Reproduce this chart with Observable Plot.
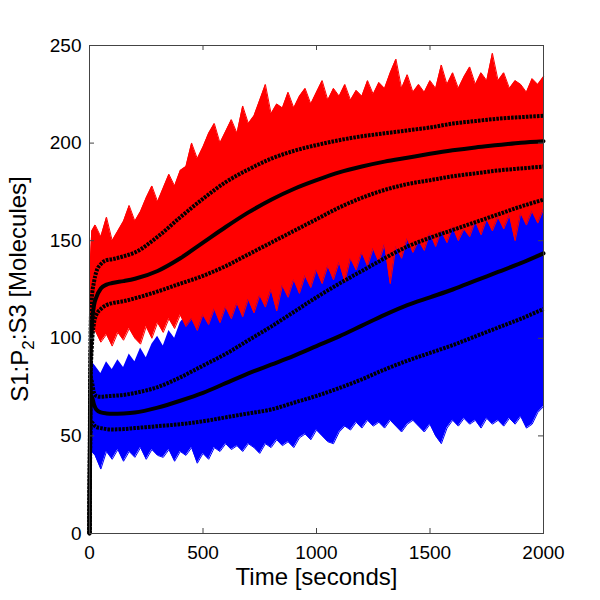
<!DOCTYPE html>
<html><head><meta charset="utf-8">
<script src="https://cdn.jsdelivr.net/npm/d3@7"></script>
<script src="https://cdn.jsdelivr.net/npm/@observablehq/plot@0.6"></script>
<style>
body{margin:0;background:#fff}
svg{font-family:"Liberation Sans",Arial,sans-serif}
</style>
</head><body><div id="chart"></div>
<script>
// ---- data ----
const xTicks = [0, 500, 1000, 1500, 2000];
const yTicks = [0, 50, 100, 150, 200, 250];

// time grid of the trajectory envelopes (seconds)
const envT = [0, 4, 10, 25, 50, 75, 100, 125, 150, 175, 200, 225, 250, 275, 300, 325, 350, 375, 400, 425, 450, 475, 500,
  525, 550, 575, 600, 625, 650, 675, 700, 725, 750, 775, 800, 825, 850, 875, 900, 925, 950, 975, 1000,
  1025, 1050, 1075, 1100, 1125, 1150, 1175, 1200, 1225, 1250, 1275, 1300, 1325, 1350, 1375, 1400,
  1425, 1450, 1475, 1500, 1525, 1550, 1575, 1600, 1625, 1650, 1675, 1700, 1725, 1750, 1775, 1800,
  1825, 1850, 1875, 1900, 1925, 1950, 1975, 2000];

// red trajectories: upper / lower envelope
const redUpper = [0, 140, 155,
  158,152,162,150,155,160,168,160,165,172,
  178,170,177,184,178,186,188,200,192,198,
  205,210,200,206,212,205,219,210,214,222,
  230,215,220,218,226,218,224,228,220,226,
  232,222,228,224,230,222,227,224,232,225,
  231,228,236,243,228,235,226,230,226,232,
  228,240,230,236,228,234,239,230,236,232,
  246,232,236,228,232,230,226,233,230,234];
const redLower = [0, 95, 102,
  104,98,102,96,103,99,105,100,97,106,
  100,108,103,110,105,112,106,110,104,112,
  107,115,108,116,110,118,111,120,113,122,
  116,125,114,127,121,130,123,132,126,135,
  128,137,130,139,129,141,135,144,137,146,
  139,148,128,147,141,151,144,150,145,154,
  147,155,149,157,150,156,152,160,153,161,
  155,162,156,163,150,164,158,165,159,166];

// blue trajectories: upper / lower envelope
const blueUpper = [0, 82, 88,
  86,82,88,84,89,85,92,88,95,90,
  97,101,96,104,100,108,112,118,115,122,
  126,124,130,128,133,136,132,138,136,141,
  139,143,141,146,144,148,146,150,148,152,
  150,155,153,157,155,160,158,162,160,164,
  162,166,164,168,166,170,168,172,170,174,
  172,176,174,178,176,180,178,182,180,184,
  182,186,184,188,184,186,183,185,182,184];
const blueLower = [0, 50, 42,
  40,33,42,38,43,37,42,39,44,38,
  43,40,39,43,37,42,40,44,36,41,
  38,44,42,46,43,45,42,46,44,41,
  46,44,48,45,47,44,49,51,48,53,
  50,47,46,52,55,53,57,54,58,55,
  57,54,58,55,52,56,58,55,52,56,
  50,46,54,58,55,59,56,58,54,59,
  56,58,55,59,56,60,54,56,62,65];

// mean and mean +/- std curves
const lineT = [0, 2, 5, 10, 20, 30, 50, 75, 100, 150, 200, 300, 400, 500, 600, 700, 800, 900, 1000,
  1100, 1200, 1300, 1400, 1500, 1600, 1700, 1800, 1900, 2000];
const redMean = [0, 50, 90, 105, 117, 121, 125.5, 127.5, 128.3, 129.3, 130.5, 134.5, 141, 149, 157, 164.5, 171, 176.5, 181,
  185, 188, 190.5, 192.5, 194.5, 196.3, 197.8, 199, 200.2, 201];
const redUp = [0, 60, 105, 120, 129, 134, 138, 140, 140.5, 142, 144, 152, 162, 171.5, 180, 186.5, 192, 196, 199,
  201.5, 203.5, 205, 206.5, 208, 210, 211.3, 212.5, 213.3, 214];
const redLo = [0, 40, 80, 95, 108, 112, 115, 117, 118, 119, 120.5, 124, 128, 132, 137, 143, 149, 155, 161,
  167, 172, 176, 179, 181, 183, 184.5, 186, 187, 188];
const blueMean = [0, 35, 68, 70, 66, 63.5, 62, 61.5, 61.3, 61.5, 62, 64.5, 68, 72, 77, 82, 86.5, 91, 96,
  101, 106.5, 112, 117, 121, 125, 129.5, 134, 138.5, 143.5];
const blueUp = [0, 45, 80, 78, 72, 70.5, 70, 70.3, 70.5, 71, 72, 75, 80, 86, 92, 99, 106, 113.5, 121,
  128, 134.5, 141, 147, 151.5, 155.5, 159.5, 163.5, 167.5, 171];
const blueLo = [0, 30, 55, 57, 55.5, 54.5, 54, 53.5, 53.3, 53.5, 54, 55, 56, 57.5, 59.5, 61.5, 63.5, 67, 70.5,
  74.5, 79, 84, 88.5, 92.5, 96.5, 101, 105.5, 110, 115];

// ---- tables ----
const env = envT.map((t, i) => ({t, ru: redUpper[i], rl: redLower[i], bu: blueUpper[i], bl: blueLower[i]}));
const stats = lineT.map((t, i) => ({t, rm: redMean[i], ru: redUp[i], rl: redLo[i], bm: blueMean[i], bu: blueUp[i], bl: blueLo[i]}));

const W = 600, H = 600, mL = 89, mR = 57, mT = 45, mB = 67;
const iw = W - mL - mR, ih = H - mT - mB;
const frameCol = "#444";
const dotted = {stroke: "black", strokeWidth: 4, strokeDasharray: "2.6,1.1", strokeLinecap: "butt", strokeLinejoin: "miter", curve: "monotone-x"};
const solid = {stroke: "black", strokeWidth: 4, curve: "monotone-x"};

const svg = Plot.plot({
  width: W, height: H,
  marginLeft: mL, marginRight: mR, marginTop: mT, marginBottom: mB,
  x: {domain: [0, 2000]},
  y: {domain: [0, 250]},
  style: {fontFamily: '"Liberation Sans", Arial, sans-serif', background: "#fff", color: "#000", overflow: "visible"},
  marks: [
    Plot.areaY(env, {x: "t", y1: "bl", y2: "bu", fill: "#0000ff"}),
    Plot.lineY(env, {x: "t", y: "bl", stroke: "#0000ff", strokeWidth: 1}),
    Plot.areaY(env, {x: "t", y1: "rl", y2: "ru", fill: "#ff0000"}),
    Plot.lineY(env, {x: "t", y: "ru", stroke: "#ff0000", strokeWidth: 1}),
    Plot.lineY(env, {x: "t", y: "rl", stroke: "#ff0000", strokeWidth: 1}),
    Plot.lineY(stats, {x: "t", y: "bu", ...dotted}),
    Plot.lineY(stats, {x: "t", y: "bl", ...dotted}),
    Plot.lineY(stats, {x: "t", y: "bm", ...solid}),
    Plot.lineY(stats, {x: "t", y: "ru", ...dotted}),
    Plot.lineY(stats, {x: "t", y: "rl", ...dotted}),
    Plot.lineY(stats, {x: "t", y: "rm", ...solid}),
    Plot.frame({stroke: frameCol}),
    Plot.ruleX(xTicks, {x: d => d, insetTop: ih - 5, stroke: frameCol}),
    Plot.ruleX(xTicks, {x: d => d, insetBottom: ih - 5, stroke: frameCol}),
    Plot.ruleY(yTicks, {y: d => d, insetRight: iw - 5, stroke: frameCol}),
    Plot.ruleY(yTicks, {y: d => d, insetLeft: iw - 5, stroke: frameCol}),
    Plot.axisX({ticks: xTicks, tickSize: 0, tickPadding: 12, tickFormat: "d", fontSize: 19, label: null}),
    Plot.axisY({ticks: yTicks, tickSize: 0, tickPadding: 8, tickFormat: "d", fontSize: 19, label: null}),
    Plot.text(["Time [seconds]"], {text: d => d, frameAnchor: "bottom", dy: 51, fontSize: 24, fill: "black"})
  ]
});

// y-axis title with subscript
const yl = d3.select(svg).append("text")
  .attr("transform", `translate(28,${mT + ih / 2}) rotate(-90)`)
  .attr("text-anchor", "middle")
  .attr("fill", "black")
  .style("font-size", "24px");
yl.append("tspan").text("S1:P");
yl.append("tspan").attr("dy", "0.35em").style("font-size", "17px").text("2");
yl.append("tspan").attr("dy", "-0.35em").text(":S3 [Molecules]");

document.getElementById("chart").appendChild(svg);
</script>
</body></html>
